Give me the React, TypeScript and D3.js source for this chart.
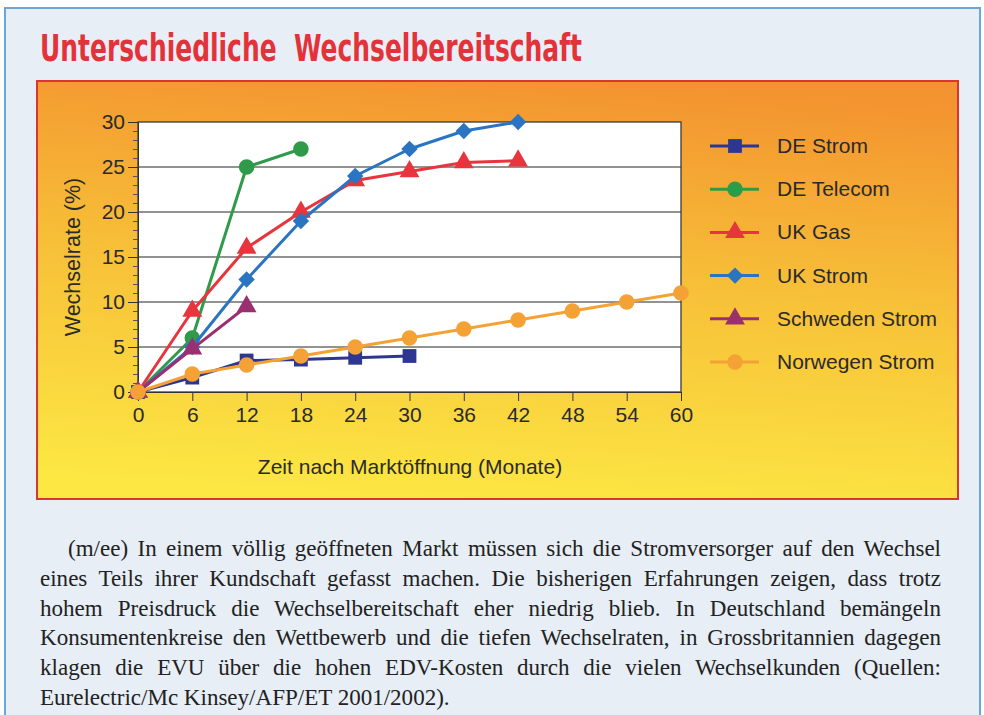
import React, { useEffect, useRef } from 'react';
import * as d3 from 'd3';

const months = [0, 6, 12, 18, 24, 30, 36, 42, 48, 54, 60];
const deStrom = [0, 1.6, 3.5, 3.6, 3.8, 4.0];
const deTelecom = [0, 6, 25, 27];
const ukGas = [0, 9, 16, 20, 23.5, 24.5, 25.5, 25.7];
const ukStrom = [0, 5, 12.5, 19, 24, 27, 29, 30];
const schwedenStrom = [0, 4.8, 9.5];
const norwegenStrom = [0, 2, 3, 4, 5, 6, 7, 8, 9, 10, 11];
const yTicks = [0, 5, 10, 15, 20, 25, 30];

const seriesNames = ['DE Strom', 'DE Telecom', 'UK Gas', 'UK Strom', 'Schweden Strom', 'Norwegen Strom'];
const seriesValues = [deStrom, deTelecom, ukGas, ukStrom, schwedenStrom, norwegenStrom];
const seriesColors = ['#2d3791', '#2f9a4a', '#e8343c', '#2a74c2', '#9a3070', '#f4a235'];
const seriesSymbols = [d3.symbolSquare, d3.symbolCircle, d3.symbolTriangle, d3.symbolSquare, d3.symbolTriangle, d3.symbolCircle];
const symbolSizes = [190, 190, 170, 135, 170, 190];
const symbolRotate = [0, 0, 0, 45, 0, 0];

const paragraph = [
  '(m/ee) In einem völlig geöffneten Markt müssen sich die Stromversorger auf den Wechsel',
  'eines Teils ihrer Kundschaft gefasst machen. Die bisherigen Erfahrungen zeigen, dass trotz',
  'hohem Preisdruck die Wechselbereitschaft eher niedrig blieb. In Deutschland bemängeln',
  'Konsumentenkreise den Wettbewerb und die tiefen Wechselraten, in Grossbritannien dagegen',
  'klagen die EVU über die hohen EDV-Kosten durch die vielen Wechselkunden (Quellen:',
  'Eurelectric/Mc Kinsey/AFP/ET 2001/2002).',
];

export default function App() {
  const ref = useRef<SVGSVGElement | null>(null);
  useEffect(() => {
    const svg = d3.select(ref.current);
    svg.selectAll('*').remove();
    const width = 984, height = 715;
    svg.attr('width', width).attr('height', height).attr('viewBox', `0 0 ${width} ${height}`);

    const defs = svg.append('defs');
    const grad = defs.append('linearGradient').attr('id', 'panel')
      .attr('x1', 0.55).attr('y1', 0).attr('x2', 0.4).attr('y2', 1);
    grad.append('stop').attr('offset', '0').attr('stop-color', '#f39430');
    grad.append('stop').attr('offset', '0.45').attr('stop-color', '#f7bf38');
    grad.append('stop').attr('offset', '1').attr('stop-color', '#fce743');

    // paper + frame
    svg.append('rect').attr('width', width).attr('height', height).attr('fill', '#ffffff');
    svg.append('rect').attr('x', 5).attr('y', 8).attr('width', 975).attr('height', 720)
      .attr('fill', '#e7eef6').attr('stroke', '#6aa6d8').attr('stroke-width', 2);

    svg.append('text').attr('x', 40).attr('y', 61)
      .attr('textLength', 542).attr('lengthAdjust', 'spacingAndGlyphs')
      .style('font-family', '"DejaVu Sans", sans-serif').style('font-stretch', 'condensed')
      .style('font-weight', 'bold').style('font-size', '37px').attr('fill', '#e3333a')
      .attr('xml:space', 'preserve')
      .text('Unterschiedliche  Wechselbereitschaft');

    svg.append('rect').attr('x', 37).attr('y', 81).attr('width', 921).attr('height', 418)
      .attr('fill', 'url(#panel)').attr('stroke', '#d9362e').attr('stroke-width', 2);

    const margin = { left: 138, right: 681, top: 122, bottom: 392 };
    const x = d3.scaleLinear().domain([0, 60]).range([margin.left, margin.right]);
    const y = d3.scaleLinear().domain([0, 30]).range([margin.bottom, margin.top]);

    svg.append('rect').attr('x', x(0)).attr('y', y(30)).attr('width', x(60) - x(0)).attr('height', y(0) - y(30))
      .attr('fill', '#ffffff');

    svg.append('g').selectAll('line').data(yTicks.filter(t => t > 0 && t < 30)).join('line')
      .attr('x1', x(0)).attr('x2', x(60)).attr('y1', d => y(d)).attr('y2', d => y(d))
      .attr('stroke', '#6e6e6e').attr('stroke-width', 1.3);

    svg.append('rect').attr('x', x(0)).attr('y', y(30)).attr('width', x(60) - x(0)).attr('height', y(0) - y(30))
      .attr('fill', 'none').attr('stroke', '#3a3a3a').attr('stroke-width', 1.3);

    const font = '"Liberation Sans", Arial, sans-serif';
    const yAxis = svg.append('g').attr('transform', `translate(${x(0)},0)`)
      .call(d3.axisLeft(y).tickValues(yTicks).tickSize(10).tickPadding(3).tickFormat(d3.format('d')));
    yAxis.select('.domain').attr('stroke', '#333');
    yAxis.selectAll('.tick line').attr('stroke', '#333');
    yAxis.selectAll('.tick text').style('font-family', font).style('font-size', '21px').attr('fill', '#2a2a2a');
    svg.append('g').attr('transform', `translate(${x(0)},0)`)
      .call(d3.axisLeft(y).tickValues(d3.range(0, 31, 1).filter(v => v % 5 !== 0)).tickSize(5).tickFormat(() => ''))
      .call(g => g.select('.domain').remove())
      .selectAll('.tick line').attr('stroke', '#555');

    const xAxis = svg.append('g').attr('transform', `translate(0,${y(0)})`)
      .call(d3.axisBottom(x).tickValues(months).tickSize(9).tickPadding(6).tickFormat(d3.format('d')));
    xAxis.select('.domain').attr('stroke', '#333');
    xAxis.selectAll('.tick line').attr('stroke', '#333');
    xAxis.selectAll('.tick text').style('font-family', font).style('font-size', '21px').attr('fill', '#2a2a2a');

    svg.append('text').attr('transform', `translate(80,257) rotate(-90)`).attr('text-anchor', 'middle')
      .style('font-family', font).style('font-size', '21.5px').attr('fill', '#2a2a2a')
      .text('Wechselrate (%)');
    svg.append('text').attr('x', 410).attr('y', 474).attr('text-anchor', 'middle')
      .style('font-family', font).style('font-size', '21px').attr('fill', '#2a2a2a')
      .text('Zeit nach Marktöffnung (Monate)');

    const symbolPath = (s: number) => d3.symbol().type(seriesSymbols[s]).size(symbolSizes[s])();
    const line = d3.line<number>().x((_, i) => x(months[i])).y(d => y(d));
    seriesValues.forEach((vals, s) => {
      const g = svg.append('g');
      g.append('path').attr('d', line(vals)).attr('fill', 'none')
        .attr('stroke', seriesColors[s]).attr('stroke-width', 3).attr('stroke-linejoin', 'round');
      g.selectAll('path.m').data(vals).join('path').attr('class', 'm')
        .attr('transform', (d, i) => `translate(${x(months[i])},${y(d)}) rotate(${symbolRotate[s]})`)
        .attr('d', symbolPath(s))
        .attr('fill', seriesColors[s]);
    });

    const legend = svg.append('g');
    seriesNames.forEach((name, s) => {
      const ly = 146 + s * 43.2;
      legend.append('line').attr('x1', 710).attr('x2', 759).attr('y1', ly).attr('y2', ly)
        .attr('stroke', seriesColors[s]).attr('stroke-width', 3);
      legend.append('path').attr('transform', `translate(735,${ly}) rotate(${symbolRotate[s]})`)
        .attr('d', symbolPath(s))
        .attr('fill', seriesColors[s]);
      legend.append('text').attr('x', 777).attr('y', ly + 7)
        .style('font-family', font).style('font-size', '21px').attr('fill', '#2a2a2a')
        .text(name);
    });

    // justified paragraph, slightly condensed serif
    const left = 40, right = 941, indent = 28, squeeze = 0.96;
    paragraph.forEach((txt, i) => {
      const startX = i === 0 ? left + indent : left;
      const t = svg.append('text').attr('transform', `translate(${startX},${556 + i * 29.8}) scale(${squeeze},1)`)
        .style('font-family', '"Liberation Serif", "Times New Roman", serif').style('font-size', '24px')
        .attr('fill', '#222').text(txt);
      if (i < paragraph.length - 1) {
        const node = t.node() as SVGTextElement;
        const w = node.getComputedTextLength();
        const spaces = (txt.match(/ /g) || []).length;
        if (spaces > 0) t.attr('word-spacing', ((right - startX) / squeeze - w) / spaces);
      }
    });
  }, []);
  return <svg ref={ref} style={{ position: 'absolute', left: 0, top: 0, display: 'block' }} />;
}
